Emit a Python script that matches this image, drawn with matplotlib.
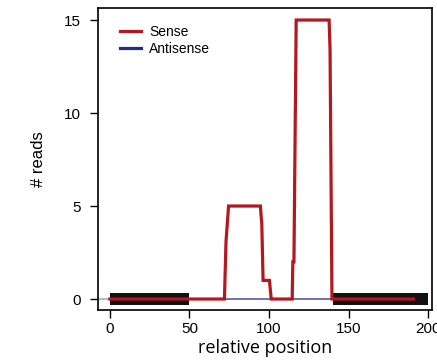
import numpy as np
import matplotlib
matplotlib.use('Agg')
import matplotlib.pyplot as plt

plt.rcParams['font.family'] = ['Liberation Sans', 'DejaVu Sans']

# Sense read profile (position, reads)
sense_x = [0, 72, 73, 74.6, 94.6, 95.5, 96.3, 100.3, 101.4, 114.6, 115, 115.7, 117.1, 137.8, 138.4, 139.6, 190.8]
sense_y = [0, 0, 3.1, 5, 5, 4, 1, 1, 0, 0, 2, 2, 15, 15, 13.4, 0, 0]

# Antisense read profile
anti_x = [0, 190]
anti_y = [0, 0]

# background line and flanking regions
base_x = [-10, 197.7]
base_y = [0, 0]
flank_start = [0, 140.5]
flank_len = [50, 59.5]

xticks = [0, 50, 100, 150, 200]
yticks = [0, 5, 10, 15]

red = '#b5171e'
blue = '#2a2a8c'

fig = plt.figure(figsize=(4.37, 3.61), dpi=100)
ax = fig.add_axes([0.224, 0.1413, 0.7646, 0.8367])

ax.plot(base_x, base_y, color='#b0b0b0', lw=1.2, zorder=1)
ax.barh([0, 0], flank_len, left=flank_start, height=0.62, color='#111111', zorder=2)
ax.plot(anti_x, anti_y, color='#6c6cb4', lw=1.3, zorder=3)
ax.plot(sense_x, sense_y, color=red, lw=2.3, zorder=4, solid_joinstyle='miter')

# legend handles
ax.plot([], [], color=red, lw=2.3, label='Sense')
ax.plot([], [], color=blue, lw=2.3, label='Antisense')
ax.legend(handles=ax.lines[-2:], loc='upper left', frameon=False, fontsize=10,
          handlelength=1.45, handletextpad=0.6, labelspacing=0.2,
          bbox_to_anchor=(0.03, 0.985))

ax.set_xlim(-7.55, 202.5)
ax.set_ylim(-0.59, 15.65)
ax.set_xticks(xticks)
ax.set_yticks(yticks)
ax.tick_params(direction='out', length=6, width=1, labelsize=11, pad=3)
ax.tick_params(axis='y', pad=6)
for s in ax.spines.values():
    s.set_linewidth(1.2)

ax.set_xlabel('relative position', fontsize=13, family=['Open Sans', 'DejaVu Sans'], labelpad=2)
ax.set_ylabel('# reads', fontsize=12, labelpad=13)

fig.savefig('out.png', dpi=100)
